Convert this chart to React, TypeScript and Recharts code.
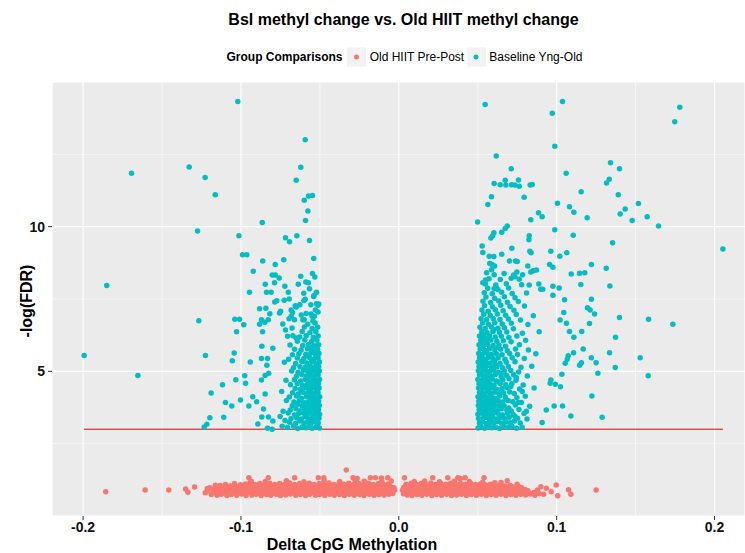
import React from 'react';
import { ScatterChart, Scatter, XAxis, YAxis, CartesianGrid, ReferenceLine } from 'recharts';

type P = [number, number];

// ---------- axis / grid values ----------
const xTicks = [-0.2, -0.1, 0, 0.1, 0.2];
const xMinor = [-0.15, -0.05, 0.05, 0.15];
const yTicks = [5, 10];
const yMinor = [2.5, 7.5, 12.5];
const thresholdY = 3;
const thresholdFrom = -0.1995;
const thresholdTo = 0.2053;

// ---------- Old HIIT Pre-Post (pink) ----------
const pinkOutliers: P[] = [
  [-0.1857, 0.84], [-0.1607, 0.9], [-0.1457, 0.9], [-0.1351, 0.93], [-0.1336, 0.82], [-0.1294, 1.0],
  [-0.1226, 0.8], [-0.1213, 0.95],
  [-0.095, 1.32], [-0.0827, 1.32], [-0.066, 1.32], [-0.051, 1.32], [-0.0475, 1.32], [-0.0333, 1.59],
  [-0.029, 1.32], [-0.0264, 1.3], [-0.018, 1.32], [-0.0148, 1.32], [-0.011, 1.31], [-0.007, 1.32],
  [0.0036, 1.32], [0.0215, 1.32], [0.031, 1.32], [0.0374, 1.32], [0.039, 1.3], [0.042, 1.32], [0.054, 1.32],
  [0.0687, 1.22], [0.075, 1.1],
  [0.0855, 0.81], [0.0878, 0.9], [0.09, 1.01], [0.0934, 0.96], [0.0965, 0.84], [0.0997, 1.07],
  [0.1007, 0.7], [0.1075, 0.91], [0.109, 0.75], [0.125, 0.9], [0.0862, 0.72], [0.0889, 0.78], [0.0918, 0.75],
];

const pinkLeftBand: P[] = [
  [-0.1188, 0.74], [-0.1151, 0.72], [-0.1124, 0.75], [-0.1089, 0.71], [-0.1062, 0.74], [-0.1027, 0.72], [-0.0996, 0.76],
  [-0.0968, 0.71], [-0.0931, 0.73], [-0.0903, 0.75], [-0.0872, 0.71], [-0.0838, 0.74], [-0.0811, 0.72], [-0.0777, 0.75],
  [-0.0749, 0.71], [-0.0716, 0.73], [-0.0688, 0.76], [-0.0653, 0.72], [-0.0624, 0.74], [-0.0591, 0.71], [-0.0563, 0.75],
  [-0.0528, 0.72], [-0.0502, 0.74], [-0.0469, 0.71], [-0.0437, 0.75], [-0.0409, 0.72], [-0.0376, 0.74], [-0.0345, 0.71],
  [-0.0314, 0.75], [-0.0283, 0.72], [-0.0249, 0.74], [-0.0221, 0.71], [-0.0188, 0.75], [-0.0157, 0.72], [-0.0126, 0.74],
  [-0.0094, 0.73], [-0.0063, 0.75], [-0.0038, 0.78],
  [-0.1171, 0.8], [-0.1139, 0.79], [-0.1105, 0.81], [-0.1075, 0.79], [-0.1044, 0.8], [-0.1012, 0.81], [-0.0982, 0.79],
  [-0.0949, 0.8], [-0.0917, 0.81], [-0.0887, 0.79], [-0.0855, 0.8], [-0.0824, 0.81], [-0.0794, 0.79], [-0.0763, 0.8],
  [-0.0731, 0.81], [-0.0701, 0.79], [-0.0669, 0.8], [-0.0638, 0.81], [-0.0607, 0.79], [-0.0576, 0.8], [-0.0545, 0.81],
  [-0.0514, 0.79], [-0.0484, 0.8], [-0.0452, 0.81], [-0.0421, 0.79], [-0.039, 0.8], [-0.0359, 0.81], [-0.0328, 0.79],
  [-0.0297, 0.8], [-0.0266, 0.81], [-0.0235, 0.79], [-0.0204, 0.8], [-0.0172, 0.81], [-0.0141, 0.79], [-0.011, 0.8],
  [-0.0079, 0.81], [-0.005, 0.8],
  [-0.1213, 0.86], [-0.1172, 0.88], [-0.1138, 0.85], [-0.1107, 0.89], [-0.1076, 0.86], [-0.1043, 0.88], [-0.1011, 0.85],
  [-0.0983, 0.89], [-0.0951, 0.87], [-0.0918, 0.85], [-0.0887, 0.89], [-0.0856, 0.86], [-0.0823, 0.88], [-0.0792, 0.85],
  [-0.0764, 0.89], [-0.0731, 0.87], [-0.0702, 0.85], [-0.0671, 0.88], [-0.0638, 0.86], [-0.0607, 0.89], [-0.0577, 0.85],
  [-0.0546, 0.88], [-0.0514, 0.86], [-0.0485, 0.89], [-0.0453, 0.85], [-0.0422, 0.88], [-0.0391, 0.86], [-0.0359, 0.89],
  [-0.0328, 0.85], [-0.0297, 0.88], [-0.0266, 0.86], [-0.0234, 0.89], [-0.0204, 0.85], [-0.0172, 0.88], [-0.0141, 0.86],
  [-0.0109, 0.89], [-0.0078, 0.86], [-0.0049, 0.88], [-0.0026, 0.9],
  [-0.1187, 0.93], [-0.1156, 0.92], [-0.1124, 0.94], [-0.1093, 0.92], [-0.1061, 0.93], [-0.103, 0.94], [-0.0998, 0.92],
  [-0.0967, 0.93], [-0.0935, 0.94], [-0.0904, 0.92], [-0.0872, 0.93], [-0.0841, 0.94], [-0.081, 0.92], [-0.0778, 0.93],
  [-0.0747, 0.94], [-0.0716, 0.92], [-0.0685, 0.93], [-0.0654, 0.94], [-0.0623, 0.92], [-0.0592, 0.93], [-0.0561, 0.94],
  [-0.053, 0.92], [-0.0499, 0.93], [-0.0468, 0.94], [-0.0437, 0.92], [-0.0406, 0.93], [-0.0375, 0.94], [-0.0344, 0.92],
  [-0.0312, 0.93], [-0.0281, 0.94], [-0.025, 0.92], [-0.0219, 0.93], [-0.0188, 0.94], [-0.0157, 0.92], [-0.0125, 0.93],
  [-0.0094, 0.94], [-0.0063, 0.92], [-0.0039, 0.93],
  [-0.1197, 0.98], [-0.1146, 1.0], [-0.1117, 0.97], [-0.1084, 1.01], [-0.1052, 0.99], [-0.1019, 0.97], [-0.0989, 1.01],
  [-0.0958, 0.98], [-0.0926, 1.02], [-0.0895, 0.99], [-0.0863, 0.97], [-0.0832, 1.01], [-0.0801, 0.98], [-0.0771, 1.02],
  [-0.0739, 0.99], [-0.0708, 0.97], [-0.0677, 1.01], [-0.0646, 0.98], [-0.0614, 1.02], [-0.0583, 0.99], [-0.0551, 0.97],
  [-0.0521, 1.01], [-0.0492, 0.98], [-0.0459, 1.02], [-0.0428, 0.99], [-0.0397, 0.97], [-0.0366, 1.01], [-0.0335, 0.98],
  [-0.0303, 1.02], [-0.0272, 0.99], [-0.0241, 0.97], [-0.0209, 1.01], [-0.0178, 0.98], [-0.0147, 1.02], [-0.0115, 0.99],
  [-0.0084, 0.97], [-0.0053, 1.01], [-0.0031, 0.98],
  [-0.1131, 1.05], [-0.1068, 1.04], [-0.1037, 1.05], [-0.1005, 1.05], [-0.0974, 1.04], [-0.0942, 1.06], [-0.0911, 1.05],
  [-0.0879, 1.04], [-0.0848, 1.06], [-0.0816, 1.05], [-0.0785, 1.04], [-0.0753, 1.06], [-0.0722, 1.05], [-0.069, 1.04],
  [-0.0659, 1.06], [-0.0627, 1.05], [-0.0596, 1.04], [-0.0564, 1.06], [-0.0533, 1.05], [-0.0501, 1.04], [-0.047, 1.06],
  [-0.0438, 1.05], [-0.0407, 1.04], [-0.0375, 1.06], [-0.0344, 1.05], [-0.0312, 1.04], [-0.0281, 1.06], [-0.0249, 1.05],
  [-0.0218, 1.04], [-0.0186, 1.06], [-0.0155, 1.05], [-0.0123, 1.04], [-0.0092, 1.04], [-0.006, 1.05],
  [-0.1162, 1.06], [-0.1098, 1.09], [-0.1041, 1.12], [-0.1003, 1.08], [-0.0972, 1.11], [-0.0944, 1.14], [-0.0912, 1.09],
  [-0.0881, 1.12], [-0.0849, 1.1], [-0.0817, 1.13], [-0.0786, 1.09], [-0.0755, 1.12], [-0.0723, 1.1], [-0.0692, 1.14],
  [-0.0661, 1.09], [-0.0629, 1.12], [-0.0598, 1.1], [-0.0567, 1.13], [-0.0536, 1.09], [-0.0504, 1.12], [-0.0473, 1.1],
  [-0.0442, 1.14], [-0.0411, 1.09], [-0.0379, 1.12], [-0.0348, 1.1], [-0.0317, 1.13], [-0.0286, 1.09], [-0.0254, 1.12],
  [-0.0223, 1.1], [-0.0192, 1.13], [-0.0161, 1.09], [-0.0129, 1.12], [-0.0098, 1.1], [-0.0067, 1.11],
  [-0.0935, 1.2], [-0.0846, 1.19], [-0.0712, 1.22], [-0.0601, 1.18], [-0.0473, 1.21], [-0.0374, 1.19], [-0.0276, 1.23],
  [-0.0219, 1.2], [-0.0108, 1.18], [-0.0048, 1.21],
];

const pinkRightBand: P[] = [
  [0.0029, 0.77], [0.0054, 0.73], [0.0083, 0.71], [0.0114, 0.74], [0.0146, 0.72], [0.0177, 0.75], [0.0209, 0.71],
  [0.024, 0.74], [0.0271, 0.72], [0.0303, 0.75], [0.0334, 0.71], [0.0366, 0.73], [0.0397, 0.75], [0.0428, 0.71],
  [0.0459, 0.74], [0.0491, 0.72], [0.0522, 0.75], [0.0554, 0.71], [0.0585, 0.74], [0.0616, 0.72], [0.0648, 0.75],
  [0.0679, 0.71], [0.0711, 0.74], [0.0742, 0.72], [0.0773, 0.75], [0.0804, 0.73], [0.0832, 0.76],
  [0.0041, 0.8], [0.0069, 0.79], [0.0099, 0.81], [0.013, 0.79], [0.0161, 0.8], [0.0193, 0.81], [0.0224, 0.79],
  [0.0255, 0.8], [0.0287, 0.81], [0.0318, 0.79], [0.035, 0.8], [0.0381, 0.81], [0.0412, 0.79], [0.0444, 0.8],
  [0.0475, 0.81], [0.0506, 0.79], [0.0538, 0.8], [0.0569, 0.81], [0.06, 0.79], [0.0632, 0.8], [0.0663, 0.81],
  [0.0695, 0.79], [0.0726, 0.8], [0.0757, 0.81], [0.0789, 0.79], [0.0819, 0.8],
  [0.0024, 0.89], [0.0041, 0.86], [0.0069, 0.88], [0.0101, 0.85], [0.0131, 0.89], [0.0162, 0.86], [0.0193, 0.88],
  [0.0224, 0.85], [0.0256, 0.89], [0.0287, 0.86], [0.0318, 0.88], [0.035, 0.85], [0.0381, 0.89], [0.0412, 0.86],
  [0.0444, 0.88], [0.0475, 0.85], [0.0506, 0.89], [0.0538, 0.86], [0.0569, 0.88], [0.06, 0.85], [0.0632, 0.89],
  [0.0663, 0.86], [0.0694, 0.88], [0.0726, 0.85], [0.0757, 0.88], [0.0789, 0.86], [0.0818, 0.87],
  [0.0029, 0.93], [0.0052, 0.92], [0.0084, 0.94], [0.0116, 0.92], [0.0147, 0.93], [0.0178, 0.94], [0.021, 0.92],
  [0.0241, 0.93], [0.0272, 0.94], [0.0303, 0.92], [0.0335, 0.93], [0.0366, 0.94], [0.0397, 0.92], [0.0429, 0.93],
  [0.046, 0.94], [0.0491, 0.92], [0.0523, 0.93], [0.0554, 0.94], [0.0585, 0.92], [0.0617, 0.93], [0.0648, 0.94],
  [0.0679, 0.92], [0.0711, 0.93], [0.0742, 0.92], [0.0773, 0.91], [0.0801, 0.92],
  [0.0033, 0.99], [0.0057, 1.02], [0.0088, 0.98], [0.0119, 1.01], [0.0151, 0.97], [0.0182, 1.02], [0.0213, 0.99],
  [0.0245, 0.97], [0.0276, 1.01], [0.0307, 0.98], [0.0339, 1.02], [0.037, 0.99], [0.0401, 0.97], [0.0433, 1.01],
  [0.0464, 0.98], [0.0495, 1.02], [0.0527, 0.99], [0.0558, 0.97], [0.0589, 1.01], [0.0621, 0.98], [0.0652, 1.0],
  [0.0683, 0.97], [0.0715, 0.99], [0.0746, 0.96], [0.0778, 0.98],
  [0.0062, 1.05], [0.0094, 1.04], [0.0125, 1.06], [0.0157, 1.05], [0.0188, 1.04], [0.022, 1.06], [0.025, 1.05],
  [0.0282, 1.04], [0.0313, 1.06], [0.0345, 1.05], [0.0376, 1.04], [0.0407, 1.06], [0.0439, 1.05], [0.047, 1.04],
  [0.0502, 1.06], [0.0533, 1.04], [0.0565, 1.03], [0.0596, 1.03], [0.0628, 1.02], [0.0659, 1.01], [0.0722, 1.01],
  [0.0762, 1.0],
  [0.0046, 1.1], [0.0078, 1.13], [0.0109, 1.09], [0.0141, 1.12], [0.0172, 1.1], [0.0203, 1.14], [0.0234, 1.09],
  [0.0266, 1.12], [0.0297, 1.1], [0.0329, 1.13], [0.036, 1.09], [0.0391, 1.12], [0.0423, 1.1], [0.0454, 1.13],
  [0.0485, 1.09], [0.0517, 1.11], [0.0548, 1.08], [0.058, 1.1], [0.0611, 1.06], [0.0642, 1.08], [0.0674, 1.04],
  [0.0705, 1.06],
  [0.0098, 1.19], [0.0164, 1.21], [0.0258, 1.18], [0.0352, 1.2], [0.0447, 1.19], [0.0531, 1.17], [0.0608, 1.15],
  [0.0648, 1.16],
];

// ---------- Baseline Yng-Old (teal) ----------
const tealLeftSparse: P[] = [
  [-0.1993, 5.55], [-0.185, 7.97], [-0.1693, 11.85], [-0.1653, 4.86], [-0.1328, 12.06], [-0.1227, 11.7], [-0.1163, 11.1],
  [-0.1275, 9.85], [-0.102, 14.33], [-0.1013, 9.69], [-0.0865, 10.14], [-0.0593, 13.0], [-0.0621, 12.05], [-0.065, 11.6],
  [-0.0599, 10.91], [-0.0572, 11.06], [-0.0547, 11.08], [-0.0576, 10.54], [-0.0591, 10.21], [-0.0718, 9.62], [-0.0692, 9.48],
  [-0.0646, 9.69], [-0.0566, 9.52], [-0.099, 9.03], [-0.0963, 9.03], [-0.0862, 8.81], [-0.0783, 8.69], [-0.0729, 8.86],
  [-0.0539, 8.9], [-0.0922, 8.46], [-0.0802, 8.33], [-0.0783, 8.33], [-0.0758, 8.23], [-0.0621, 8.29], [-0.0547, 8.38],
  [-0.0532, 8.26], [-0.0846, 8.01], [-0.0787, 8.06], [-0.0722, 7.94], [-0.0637, 8.01], [-0.0589, 8.09], [-0.0572, 8.06],
  [-0.0521, 7.73], [-0.0946, 7.73], [-0.0838, 7.73], [-0.0809, 7.73], [-0.07, 7.73], [-0.0602, 7.7], [-0.054, 7.59],
  [-0.0593, 7.49], [-0.0786, 7.4], [-0.0773, 7.44], [-0.0726, 7.46], [-0.0694, 7.5], [-0.0656, 7.27], [-0.0627, 7.3],
  [-0.0557, 7.3], [-0.0521, 7.34], [-0.0507, 7.33], [-0.0513, 7.28], [-0.0882, 7.16], [-0.0842, 7.18], [-0.0817, 6.99],
  [-0.0756, 7.02], [-0.0749, 7.08], [-0.0682, 7.12], [-0.0673, 7.03], [-0.065, 7.22], [-0.1267, 6.75], [-0.1039, 6.8],
  [-0.1009, 6.8], [-0.0982, 6.61], [-0.087, 6.78], [-0.0827, 6.78], [-0.0882, 6.63], [-0.0849, 6.7], [-0.0735, 6.64],
  [-0.0695, 6.82], [-0.0661, 6.78], [-0.0682, 6.9], [-0.0608, 6.78], [-0.0599, 6.78], [-0.0548, 6.9], [-0.0535, 6.9],
  [-0.0544, 6.74], [-0.0863, 6.37], [-0.0718, 6.43], [-0.1028, 6.37], [-0.0671, 6.23], [-0.065, 6.15], [-0.0868, 5.87],
  [-0.1225, 5.55], [-0.1043, 5.63], [-0.1055, 5.37], [-0.0941, 5.32], [-0.087, 5.44], [-0.0832, 5.44], [-0.0836, 5.21],
  [-0.0798, 5.8], [-0.1117, 4.54], [-0.1033, 4.71], [-0.0976, 4.85], [-0.0971, 4.59], [-0.087, 4.7], [-0.0847, 4.86],
  [-0.0824, 4.93], [-0.1189, 4.25], [-0.1098, 3.92], [-0.1058, 3.8], [-0.1003, 4.01], [-0.095, 3.8], [-0.0925, 4.12],
  [-0.0901, 3.95], [-0.0847, 4.22], [-0.0857, 3.7], [-0.1197, 3.4], [-0.1109, 3.41], [-0.1216, 3.17], [-0.1233, 3.08],
  [-0.0893, 3.18], [-0.0868, 3.42], [-0.0832, 3.03], [-0.0802, 3.0], [-0.0826, 3.42], [-0.0798, 3.28],
  [-0.0529, 7.12], [-0.0556, 6.98], [-0.0512, 7.05], [-0.0587, 7.0], [-0.0618, 6.95], [-0.0601, 7.45], [-0.0537, 7.62],
  [-0.0566, 7.85],
];

const tealLeftCore: P[] = [
  [-0.0503, 3.04], [-0.0521, 3.09], [-0.0548, 3.03], [-0.0567, 3.12], [-0.0589, 3.05], [-0.0612, 3.08], [-0.0641, 3.02],
  [-0.0668, 3.11], [-0.0705, 3.06], [-0.0739, 3.1],
  [-0.0511, 3.22], [-0.0533, 3.27], [-0.0556, 3.19], [-0.0579, 3.25], [-0.0601, 3.21], [-0.0629, 3.28], [-0.0655, 3.2],
  [-0.0692, 3.24], [-0.0721, 3.3],
  [-0.0506, 3.38], [-0.0527, 3.34], [-0.0544, 3.41], [-0.0571, 3.36], [-0.0594, 3.43], [-0.0618, 3.35], [-0.0647, 3.4],
  [-0.0683, 3.37], [-0.0752, 3.44],
  [-0.0502, 3.52], [-0.0518, 3.57], [-0.0539, 3.49], [-0.0562, 3.55], [-0.0585, 3.5], [-0.0606, 3.58], [-0.0636, 3.53],
  [-0.0661, 3.49], [-0.0701, 3.56],
  [-0.0509, 3.67], [-0.0531, 3.63], [-0.0552, 3.7], [-0.0576, 3.65], [-0.0597, 3.69], [-0.0624, 3.64], [-0.0652, 3.71],
  [-0.0688, 3.66], [-0.0733, 3.62],
  [-0.0504, 3.82], [-0.0522, 3.78], [-0.0546, 3.85], [-0.0566, 3.79], [-0.0591, 3.83], [-0.0613, 3.8], [-0.0642, 3.86],
  [-0.0675, 3.81],
  [-0.0508, 3.97], [-0.0529, 3.93], [-0.0551, 3.99], [-0.0574, 3.95], [-0.0603, 3.92], [-0.0631, 3.98], [-0.0664, 3.94],
  [-0.0712, 3.99],
  [-0.0501, 4.12], [-0.0519, 4.08], [-0.0541, 4.14], [-0.0563, 4.1], [-0.0586, 4.13], [-0.0617, 4.07], [-0.0648, 4.15],
  [-0.0694, 4.11],
  [-0.0512, 4.27], [-0.0534, 4.23], [-0.0557, 4.29], [-0.0581, 4.24], [-0.0608, 4.28], [-0.0637, 4.22], [-0.0673, 4.26],
  [-0.0742, 4.3],
  [-0.0505, 4.42], [-0.0524, 4.38], [-0.0547, 4.44], [-0.0572, 4.39], [-0.0596, 4.43], [-0.0625, 4.37], [-0.0657, 4.41],
  [-0.0509, 4.57], [-0.0531, 4.53], [-0.0553, 4.59], [-0.0578, 4.55], [-0.0611, 4.52], [-0.0644, 4.58], [-0.0686, 4.54],
  [-0.0502, 4.72], [-0.0523, 4.68], [-0.0544, 4.74], [-0.0568, 4.7], [-0.0593, 4.73], [-0.0621, 4.67], [-0.0662, 4.71],
  [-0.0715, 4.69],
  [-0.0511, 4.87], [-0.0536, 4.83], [-0.0559, 4.88], [-0.0587, 4.84], [-0.0615, 4.89], [-0.0649, 4.82],
  [-0.0504, 5.02], [-0.0527, 4.98], [-0.0549, 5.03], [-0.0575, 4.99], [-0.0604, 5.04], [-0.0638, 4.97], [-0.0679, 5.01],
  [-0.0508, 5.17], [-0.0532, 5.13], [-0.0561, 5.18], [-0.0592, 5.14], [-0.0626, 5.16], [-0.0667, 5.12],
  [-0.0503, 5.32], [-0.0525, 5.28], [-0.0551, 5.33], [-0.0583, 5.29], [-0.0614, 5.34], [-0.0654, 5.27], [-0.0725, 5.31],
  [-0.0512, 5.47], [-0.0538, 5.43], [-0.0566, 5.48], [-0.0601, 5.44], [-0.0643, 5.46], [-0.0698, 5.42],
  [-0.0506, 5.62], [-0.0529, 5.58], [-0.0557, 5.63], [-0.0589, 5.59], [-0.0633, 5.61], [-0.0674, 5.57],
  [-0.0515, 5.77], [-0.0546, 5.73], [-0.0578, 5.78], [-0.0619, 5.74], [-0.0661, 5.76],
  [-0.0508, 5.92], [-0.0535, 5.88], [-0.0571, 5.93], [-0.0608, 5.89], [-0.0689, 5.91],
  [-0.0519, 6.07], [-0.0552, 6.03], [-0.0596, 6.08], [-0.0642, 6.04],
  [-0.0511, 6.22], [-0.0541, 6.18], [-0.0587, 6.23], [-0.0628, 6.19], [-0.0705, 6.21],
  [-0.0526, 6.37], [-0.0563, 6.33], [-0.0612, 6.38],
  [-0.0514, 6.52], [-0.0549, 6.48], [-0.0598, 6.53], [-0.0676, 6.5],
  [-0.0531, 6.67], [-0.0577, 6.63],
  [-0.0516, 3.14], [-0.0563, 3.31], [-0.0534, 3.46], [-0.0584, 3.61], [-0.0517, 3.75], [-0.0556, 3.9], [-0.0529, 4.04],
  [-0.0573, 4.19], [-0.0519, 4.33], [-0.0561, 4.49], [-0.0526, 4.64], [-0.0581, 4.79], [-0.0519, 4.95], [-0.0566, 5.09],
  [-0.0521, 5.24], [-0.0549, 5.39], [-0.0573, 5.53], [-0.0524, 5.69], [-0.0558, 5.84],
];

const tealRightSparse: P[] = [
  [0.0547, 14.22], [0.1037, 14.33], [0.0972, 13.92], [0.178, 14.13], [0.1748, 13.63], [0.0988, 12.78], [0.0617, 12.44],
  [0.0712, 12.0], [0.1341, 12.21], [0.1398, 12.0], [0.106, 11.85],
  [0.0604, 11.49], [0.0642, 11.45], [0.0674, 11.6], [0.0678, 11.44], [0.0714, 11.45], [0.0735, 11.44], [0.0758, 11.61],
  [0.0763, 11.4], [0.0832, 11.44], [0.0845, 11.46], [0.1316, 11.51], [0.1333, 11.64],
  [0.0587, 11.03], [0.0564, 10.77], [0.0794, 11.02], [0.1155, 11.21], [0.139, 11.1], [0.1005, 10.81], [0.1081, 10.69],
  [0.1109, 10.5], [0.1434, 10.61], [0.1402, 10.44], [0.1518, 10.8], [0.1478, 10.21], [0.1573, 10.34], [0.1645, 10.02],
  [0.0885, 10.48], [0.0908, 10.34], [0.0836, 10.24], [0.1193, 10.31], [0.0499, 10.16], [0.2053, 9.23], [0.0988, 9.89],
  [0.1105, 9.7], [0.1354, 9.44],
  [0.0687, 10.02], [0.0674, 9.94], [0.0652, 9.81], [0.0602, 9.79], [0.0595, 9.69], [0.0583, 9.61], [0.0826, 9.69],
  [0.0824, 9.55], [0.0528, 9.33], [0.0532, 9.11], [0.0716, 9.25], [0.083, 9.15], [0.0838, 9.1], [0.0963, 9.15],
  [0.1064, 9.1], [0.102, 8.98], [0.0573, 8.98], [0.0602, 8.97], [0.0652, 9.05],
  [0.0701, 8.81], [0.0739, 8.81], [0.075, 8.8], [0.0576, 8.73], [0.0591, 8.69], [0.0607, 8.64], [0.0587, 8.51],
  [0.122, 8.69], [0.0955, 8.69], [0.0976, 8.6], [0.1314, 8.56], [0.0817, 8.64], [0.0836, 8.43], [0.0851, 8.48],
  [0.0872, 8.5], [0.0604, 8.34], [0.0727, 8.33], [0.0735, 8.27], [0.0763, 8.18], [0.0784, 8.34], [0.1092, 8.36],
  [0.1145, 8.39], [0.1178, 8.41], [0.1153, 8.0], [0.1337, 7.95], [0.0549, 8.16], [0.0532, 8.06], [0.0617, 7.9],
  [0.0604, 7.85], [0.0826, 7.98], [0.0887, 8.02], [0.0899, 7.84], [0.0912, 7.84], [0.0976, 7.94], [0.1016, 7.88],
  [0.0976, 7.63], [0.105, 7.47],
  [0.1195, 7.2], [0.122, 7.49], [0.1212, 7.12], [0.124, 6.98], [0.1398, 6.86], [0.1582, 6.8], [0.1736, 6.63],
  [0.1045, 7.03], [0.1022, 6.77], [0.1062, 6.66], [0.1081, 6.38], [0.1109, 6.18], [0.1159, 6.38], [0.1208, 6.65],
  [0.1373, 6.18], [0.1168, 5.77], [0.1107, 5.64], [0.1073, 5.54], [0.1067, 5.42], [0.1054, 5.28], [0.1145, 5.21],
  [0.1157, 5.3], [0.1219, 5.47], [0.125, 5.3], [0.1261, 4.93], [0.1335, 5.64], [0.1371, 5.13], [0.1529, 5.47],
  [0.158, 4.85], [0.1033, 4.9], [0.0991, 4.55], [0.1024, 4.47], [0.0963, 4.7], [0.0959, 4.59], [0.1223, 4.15],
  [0.0984, 3.8], [0.1037, 3.8], [0.0934, 3.66], [0.109, 3.46], [0.1288, 3.41], [0.0908, 3.23],
];

const tealRightCore: P[] = [
  [0.0502, 3.04], [0.0521, 3.09], [0.0543, 3.03], [0.0566, 3.11], [0.0589, 3.05], [0.0611, 3.08], [0.0637, 3.02],
  [0.0662, 3.1], [0.0691, 3.06], [0.0718, 3.09], [0.0746, 3.03], [0.0781, 3.07],
  [0.0511, 3.22], [0.0532, 3.26], [0.0555, 3.19], [0.0578, 3.24], [0.0601, 3.21], [0.0626, 3.27], [0.0652, 3.2],
  [0.0679, 3.25], [0.0707, 3.22], [0.0733, 3.28], [0.0769, 3.21],
  [0.0505, 3.37], [0.0526, 3.34], [0.0548, 3.41], [0.0571, 3.36], [0.0594, 3.42], [0.0617, 3.35], [0.0644, 3.39],
  [0.0671, 3.36], [0.0699, 3.41], [0.0752, 3.38], [0.0812, 3.35],
  [0.0501, 3.52], [0.0519, 3.56], [0.0538, 3.49], [0.0561, 3.54], [0.0585, 3.5], [0.0608, 3.57], [0.0633, 3.52],
  [0.0658, 3.49], [0.0688, 3.55], [0.0724, 3.51], [0.0793, 3.54],
  [0.0509, 3.67], [0.0531, 3.63], [0.0553, 3.7], [0.0576, 3.65], [0.0599, 3.69], [0.0623, 3.64], [0.0649, 3.71],
  [0.0684, 3.66], [0.0712, 3.63], [0.0761, 3.68],
  [0.0504, 3.82], [0.0523, 3.78], [0.0545, 3.85], [0.0567, 3.79], [0.0591, 3.83], [0.0614, 3.8], [0.0641, 3.86],
  [0.0667, 3.81], [0.0738, 3.84], [0.0829, 3.79],
  [0.0507, 3.97], [0.0529, 3.93], [0.0551, 3.99], [0.0574, 3.95], [0.0603, 3.92], [0.0629, 3.98], [0.0657, 3.94],
  [0.0693, 3.99], [0.0722, 3.95], [0.0776, 3.92],
  [0.0502, 4.12], [0.0518, 4.08], [0.0541, 4.14], [0.0563, 4.1], [0.0586, 4.13], [0.0612, 4.07], [0.0639, 4.15],
  [0.0674, 4.11], [0.0748, 4.09], [0.0801, 4.14],
  [0.0511, 4.27], [0.0534, 4.23], [0.0557, 4.29], [0.0581, 4.24], [0.0607, 4.28], [0.0635, 4.22], [0.0663, 4.26],
  [0.0703, 4.29], [0.0731, 4.23],
  [0.0505, 4.42], [0.0524, 4.38], [0.0547, 4.44], [0.0572, 4.39], [0.0596, 4.43], [0.0621, 4.37], [0.0654, 4.41],
  [0.0686, 4.44], [0.0765, 4.39], [0.0857, 4.42],
  [0.0508, 4.57], [0.0531, 4.53], [0.0553, 4.59], [0.0578, 4.55], [0.0603, 4.52], [0.0642, 4.58], [0.0677, 4.54],
  [0.0716, 4.57], [0.0788, 4.53],
  [0.0501, 4.72], [0.0522, 4.68], [0.0544, 4.74], [0.0568, 4.7], [0.0593, 4.73], [0.0619, 4.67], [0.0659, 4.71],
  [0.0698, 4.74], [0.0742, 4.69],
  [0.0511, 4.87], [0.0536, 4.83], [0.0559, 4.88], [0.0584, 4.84], [0.0611, 4.89], [0.0648, 4.82], [0.0683, 4.86],
  [0.0727, 4.88], [0.0814, 4.84],
  [0.0504, 5.02], [0.0527, 4.98], [0.0549, 5.03], [0.0575, 4.99], [0.0602, 5.04], [0.0631, 4.97], [0.0668, 5.01],
  [0.0709, 5.03], [0.0759, 4.98],
  [0.0508, 5.17], [0.0532, 5.13], [0.0556, 5.18], [0.0589, 5.14], [0.0622, 5.16], [0.0657, 5.12], [0.0694, 5.17],
  [0.0774, 5.14], [0.0842, 5.18],
  [0.0503, 5.32], [0.0525, 5.28], [0.0551, 5.33], [0.0579, 5.29], [0.0607, 5.34], [0.0641, 5.27], [0.0681, 5.31],
  [0.0736, 5.33],
  [0.0512, 5.47], [0.0538, 5.43], [0.0565, 5.48], [0.0596, 5.44], [0.0629, 5.46], [0.0672, 5.42], [0.0718, 5.47],
  [0.0795, 5.44],
  [0.0506, 5.62], [0.0529, 5.58], [0.0557, 5.63], [0.0586, 5.59], [0.0618, 5.61], [0.0653, 5.57], [0.0702, 5.62],
  [0.0752, 5.58], [0.0868, 5.61],
  [0.0515, 5.77], [0.0543, 5.73], [0.0574, 5.78], [0.0608, 5.74], [0.0645, 5.76], [0.0687, 5.72], [0.0739, 5.77],
  [0.0821, 5.74],
  [0.0508, 5.92], [0.0535, 5.88], [0.0563, 5.93], [0.0597, 5.89], [0.0634, 5.91], [0.0676, 5.87], [0.0764, 5.92],
  [0.0519, 6.07], [0.0549, 6.03], [0.0583, 6.08], [0.0621, 6.04], [0.0662, 6.06], [0.0711, 6.02], [0.0803, 6.07],
  [0.0511, 6.22], [0.0541, 6.18], [0.0574, 6.23], [0.0611, 6.19], [0.0649, 6.21], [0.0697, 6.17], [0.0748, 6.22],
  [0.0526, 6.37], [0.0559, 6.33], [0.0596, 6.38], [0.0638, 6.34], [0.0684, 6.36], [0.0783, 6.32], [0.0889, 6.37],
  [0.0514, 6.52], [0.0547, 6.48], [0.0587, 6.53], [0.0627, 6.49], [0.0669, 6.51], [0.0726, 6.47],
  [0.0531, 6.67], [0.0567, 6.63], [0.0608, 6.68], [0.0655, 6.64], [0.0713, 6.66], [0.0818, 6.62],
  [0.0521, 6.82], [0.0556, 6.78], [0.0598, 6.83], [0.0641, 6.79], [0.0694, 6.81], [0.0771, 6.77],
  [0.0538, 6.97], [0.0579, 6.93], [0.0624, 6.98], [0.0677, 6.94], [0.0744, 6.96], [0.0852, 6.92],
  [0.0527, 7.12], [0.0566, 7.08], [0.0611, 7.13], [0.0661, 7.09], [0.0729, 7.11],
  [0.0543, 7.27], [0.0593, 7.23], [0.0646, 7.28], [0.0705, 7.24], [0.0796, 7.26],
  [0.0533, 7.42], [0.0581, 7.38], [0.0633, 7.43], [0.0688, 7.39], [0.0757, 7.41],
  [0.0552, 7.57], [0.0607, 7.53], [0.0669, 7.58], [0.0736, 7.54],
  [0.0541, 7.72], [0.0592, 7.68], [0.0651, 7.73], [0.0718, 7.69], [0.0809, 7.71],
  [0.0563, 7.87], [0.0628, 7.83], [0.0696, 7.88],
  [0.0549, 8.02], [0.0614, 7.98], [0.0681, 8.03], [0.0778, 7.99],
  [0.0571, 8.2], [0.0643, 8.17], [0.0712, 8.22],
  [0.0556, 8.41], [0.0667, 8.38], [0.0748, 8.43],
  [0.0515, 3.13], [0.0583, 3.3], [0.0649, 3.45], [0.0709, 3.16], [0.0556, 3.6], [0.0621, 3.76], [0.0697, 3.73],
  [0.0537, 3.9], [0.0589, 4.02], [0.0681, 4.02], [0.0528, 4.18], [0.0648, 4.33], [0.0576, 4.48], [0.0709, 4.48],
  [0.0539, 4.63], [0.0632, 4.64], [0.0573, 4.8], [0.0519, 4.94], [0.0654, 4.93], [0.0588, 5.07], [0.0541, 5.22],
  [0.0612, 5.24], [0.0522, 5.39], [0.0585, 5.53], [0.0546, 5.67], [0.0629, 5.83], [0.0528, 5.99], [0.0572, 6.13],
  [0.0529, 6.29], [0.0602, 6.44], [0.0736, 3.45], [0.0757, 3.92], [0.0782, 4.3], [0.0745, 4.78], [0.0808, 3.62],
];

const toPoints = (arr: P[]) => arr.map(([x, y]) => ({ x, y }));
const pinkData = toPoints([...pinkLeftBand, ...pinkRightBand, ...pinkOutliers]);
const tealData = toPoints([...tealLeftSparse, ...tealLeftCore, ...tealRightSparse, ...tealRightCore]);

const PINK = '#F8766D';
const TEAL = '#00BFC4';
const FONT = '"Liberation Sans", Arial, Helvetica, sans-serif';
const DOT_R = 2.75;

const makeDot = (color: string) => (props: any) => (
  <circle cx={props.cx} cy={props.cy} r={DOT_R} fill={color} stroke="none" />
);

export default function App() {
  return (
    <div style={{ position: 'absolute', left: 0, top: 0, width: 745, height: 553, background: '#FFFFFF', fontFamily: FONT, overflow: 'hidden' }}>
      <ScatterChart width={745} height={553} margin={{ top: 82, right: 0, bottom: 0, left: 0 }}>
        <CartesianGrid fill="#EBEBEB" fillOpacity={1} stroke="#FFFFFF" strokeWidth={1.1} />
        {xMinor.map((v) => (
          <ReferenceLine key={'xm' + v} x={v} stroke="#FFFFFF" strokeWidth={0.55} />
        ))}
        {yMinor.map((v) => (
          <ReferenceLine key={'ym' + v} y={v} stroke="#FFFFFF" strokeWidth={0.55} />
        ))}
        <XAxis
          type="number"
          dataKey="x"
          domain={[-0.2197, 0.2193]}
          allowDataOverflow
          ticks={xTicks}
          interval={0}
          tickFormatter={(v: number) => v.toFixed(1)}
          height={37}
          tickSize={4}
          tickMargin={2}
          axisLine={false}
          tickLine={{ stroke: '#333333', strokeWidth: 1 }}
          tick={{ fill: '#111111', fontSize: 14, fontWeight: 'bold', fontFamily: FONT }}
        />
        <YAxis
          type="number"
          dataKey="y"
          domain={[0, 15]}
          allowDataOverflow
          ticks={yTicks}
          interval={0}
          width={52}
          tickSize={4}
          tickMargin={3}
          axisLine={false}
          tickLine={{ stroke: '#333333', strokeWidth: 1 }}
          tick={{ fill: '#111111', fontSize: 14, fontWeight: 'bold', fontFamily: FONT }}
        />
        <Scatter name="Old HIIT Pre-Post" data={pinkData} fill={PINK} shape={makeDot(PINK)} isAnimationActive={false} />
        <Scatter name="Baseline Yng-Old" data={tealData} fill={TEAL} shape={makeDot(TEAL)} isAnimationActive={false} />
        <ReferenceLine
          segment={[{ x: thresholdFrom, y: thresholdY }, { x: thresholdTo, y: thresholdY }]}
          stroke="#E00000"
          strokeWidth={1}
        />
      </ScatterChart>
      <svg width={745} height={553} style={{ position: 'absolute', left: 0, top: 0, pointerEvents: 'none' }}>
        <text x={403.5} y={24.5} textAnchor="middle" fontFamily={FONT} fontSize={16} fontWeight="bold" fill="#000">
          Bsl methyl change vs. Old HIIT methyl change
        </text>
        <text x={226.5} y={61} fontFamily={FONT} fontSize={12} fontWeight="bold" fill="#000">
          Group Comparisons
        </text>
        <rect x={347} y={47.5} width={19} height={19} fill="#F2F2F2" />
        <circle cx={356.5} cy={57} r={2.5} fill={PINK} />
        <text x={369.7} y={61} fontFamily={FONT} fontSize={12} fill="#000">
          Old HIIT Pre-Post
        </text>
        <rect x={467.5} y={47.5} width={18.5} height={19} fill="#F2F2F2" />
        <circle cx={476} cy={57} r={2.5} fill={TEAL} />
        <text x={489.3} y={61} fontFamily={FONT} fontSize={12} fill="#000">
          Baseline Yng-Old
        </text>
        <text x={352} y={549.5} textAnchor="middle" fontFamily={FONT} fontSize={16} fontWeight="bold" fill="#000">
          Delta CpG Methylation
        </text>
        <text
          transform="translate(32, 301) rotate(-90)"
          textAnchor="middle"
          fontFamily={FONT}
          fontSize={16}
          fontWeight="bold"
          fill="#000"
        >
          -log(FDR)
        </text>
      </svg>
    </div>
  );
}
